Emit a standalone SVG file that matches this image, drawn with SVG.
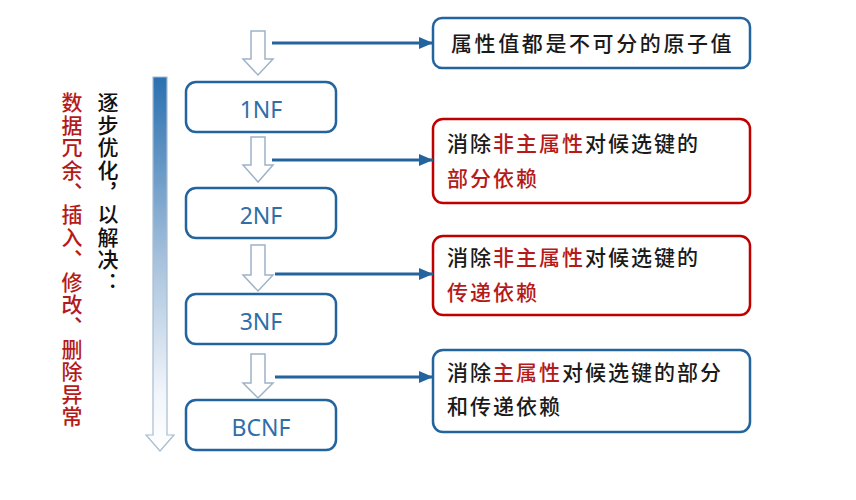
<svg xmlns="http://www.w3.org/2000/svg" width="856" height="500" viewBox="0 0 856 500">
<style>
.nf{fill:#fff;stroke:#23639e;stroke-width:2.5}
.nft{font-family:"Noto Sans","Open Sans",sans-serif;font-size:23px;fill:#2f6ea8;text-anchor:middle}
.bb{fill:#fff;stroke:#23639e;stroke-width:2.5}
.rb{fill:#fff;stroke:#c00000;stroke-width:2.5}
.t{font-family:"Noto Sans CJK SC","Noto Sans",sans-serif;font-size:21px;fill:#1a1a1a;letter-spacing:2px;font-weight:500}
.r{fill:#b51a1a}
.ha{fill:#fff;stroke:#9fb3c8;stroke-width:1.5}
.con{stroke:#23639e;stroke-width:3;fill:none;marker-end:url(#ah)}
.vt{font-family:"Noto Sans CJK SC",sans-serif;font-size:21px;writing-mode:vertical-rl;letter-spacing:1.4px;font-weight:500}
</style>
<defs>
<marker id="ah" viewBox="0 0 14 12" refX="14" refY="6" markerWidth="14" markerHeight="12" markerUnits="userSpaceOnUse" orient="auto">
<path d="M0,0 L14,6 L0,12 Z" fill="#23639e"/>
</marker>
<linearGradient id="bg" x1="0" y1="0" x2="0" y2="1">
<stop offset="0" stop-color="#2a70b0"/>
<stop offset="0.5" stop-color="#a9c3dd"/>
<stop offset="0.85" stop-color="#f2f6fa"/>
<stop offset="1" stop-color="#ffffff"/>
</linearGradient>
</defs>
<rect width="856" height="500" fill="#fff"/>

<g id="progress">
<path d="M153,77 H167 V435 H174 L160,451 L146,435 H153 Z" fill="url(#bg)" stroke="#a7bcd1" stroke-width="1.2"/>
<text class="vt" x="108" y="92" fill="#111">逐步优化，以解决：</text>
<text class="vt" x="72" y="92" fill="#b51a1a">数据冗余、插入、修改、删除异常</text>
</g>

<g id="nf1"><rect class="nf" x="186" y="82" width="150" height="50" rx="10"/><text class="nft" x="261" y="118">1NF</text></g>
<g id="nf2"><rect class="nf" x="186" y="188" width="150" height="50" rx="10"/><text class="nft" x="261" y="224">2NF</text></g>
<g id="nf3"><rect class="nf" x="186" y="294" width="150" height="50" rx="10"/><text class="nft" x="261" y="330">3NF</text></g>
<g id="bcnf"><rect class="nf" x="186" y="400" width="150" height="50" rx="10"/><text class="nft" x="261" y="436">BCNF</text></g>

<g id="box1"><rect class="bb" x="433" y="18" width="317" height="50" rx="9"/>
<text class="t" x="451" y="51" style="letter-spacing:2.6px">属性值都是不可分的原子值</text></g>
<g id="box2"><rect class="rb" x="433" y="119" width="317" height="84" rx="10"/>
<text class="t" x="447" y="151">消除<tspan class="r">非主属性</tspan>对候选键的</text>
<text class="t" x="447" y="186"><tspan class="r">部分依赖</tspan></text></g>
<g id="box3"><rect class="rb" x="433" y="236" width="317" height="79" rx="10"/>
<text class="t" x="447" y="265">消除<tspan class="r">非主属性</tspan>对候选键的</text>
<text class="t" x="447" y="300"><tspan class="r">传递依赖</tspan></text></g>
<g id="box4"><rect class="bb" x="433" y="350" width="317" height="82" rx="10"/>
<text class="t" x="447" y="380">消除<tspan class="r">主属性</tspan>对候选键的部分</text>
<text class="t" x="447" y="414">和传递依赖</text></g>

<g id="connectors">
<path class="ha" d="M251,31 H265 V59 H273 L258,75 L243,59 H251 Z"/>
<path class="ha" d="M251,137 H265 V165 H273 L258,182 L243,165 H251 Z"/>
<path class="ha" d="M251,245 H265 V275 H273 L258,291 L243,275 H251 Z"/>
<path class="ha" d="M251,354 H265 V383 H273 L258,398 L243,383 H251 Z"/>
<line class="con" x1="272" y1="43" x2="433" y2="43"/>
<line class="con" x1="272" y1="160" x2="433" y2="160"/>
<line class="con" x1="275" y1="274" x2="433" y2="274"/>
<line class="con" x1="275" y1="377" x2="433" y2="377"/>
</g>
</svg>
